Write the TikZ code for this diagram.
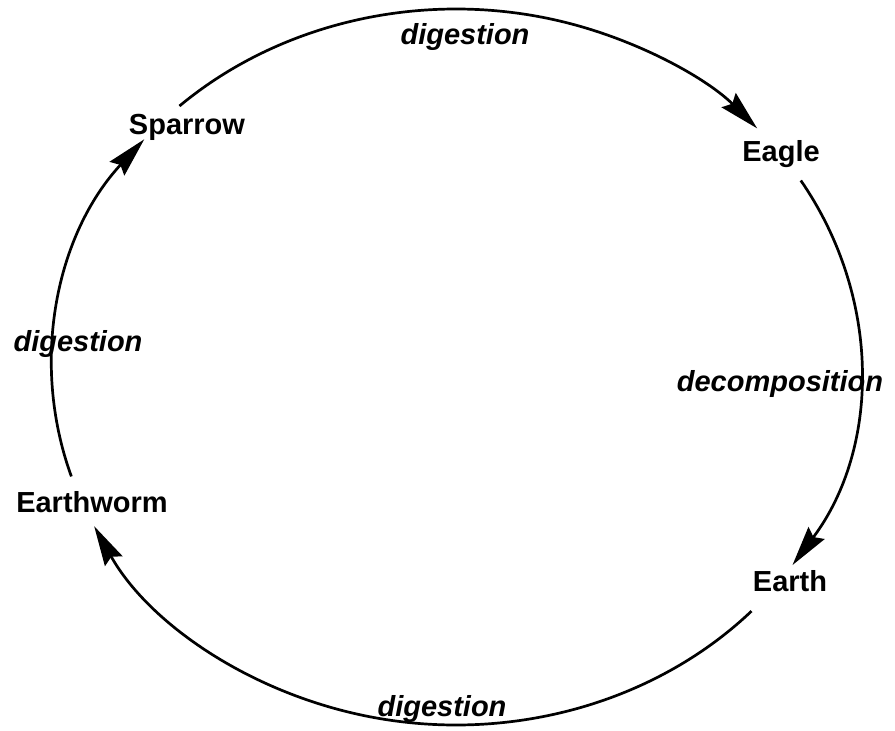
\documentclass[tikz,border=0pt]{standalone}
\usepackage{fontspec}
\setmainfont{Liberation Sans}
\usetikzlibrary{arrows.meta}
\begin{document}
\begin{tikzpicture}[x=1pt,y=1pt,
  lab/.style={font=\fontsize{29}{32}\selectfont\bfseries, anchor=base, inner sep=0pt},
  rel/.style={font=\fontsize{29}{32}\selectfont\bfseries\itshape, anchor=base, inner sep=0pt},
  conn/.style={line width=2.7pt, -{Stealth[length=40pt,width=20pt,inset=5pt]}}]
\useasboundingbox (0,0) rectangle (895,731);
\coordinate (c) at (456,364);
% nodes
\node[lab] (sparrow) at (187,596) {Sparrow};
\node[lab] (eagle) at (781,569) {Eagle};
\node[lab] (earth) at (790,139) {Earth};
\node[lab] (earthworm) at (92,218) {Earthworm};
% relation labels
\node[rel] (d1) at (465,686) {digestion};
\node[rel] (d2) at (780,339) {decomposition};
\node[rel] (d3) at (442,14) {digestion};
\node[rel] (d4) at (78,379) {digestion};
% connector start points on the ellipse
\path (c) ++(133.2:404pt and 358pt) coordinate (sparrowout);
\path (c) ++(31.4:404pt and 358pt) coordinate (eagleout);
\path (c) ++(-43.0:404pt and 358pt) coordinate (earthout);
\path (c) ++(197.8:404pt and 358pt) coordinate (earthwormout);
% connectors
\draw[conn] (sparrowout) arc[start angle=133.2, end angle=41.8, x radius=404pt, y radius=358pt];
\draw[conn] (eagleout) arc[start angle=31.4, end angle=-33.6, x radius=404pt, y radius=358pt];
\draw[conn] (earthout) arc[start angle=-43.0, end angle=-153.6, x radius=404pt, y radius=358pt];
\draw[conn] (earthwormout) arc[start angle=197.8, end angle=140.5, x radius=404pt, y radius=358pt];
\end{tikzpicture}
\end{document}
